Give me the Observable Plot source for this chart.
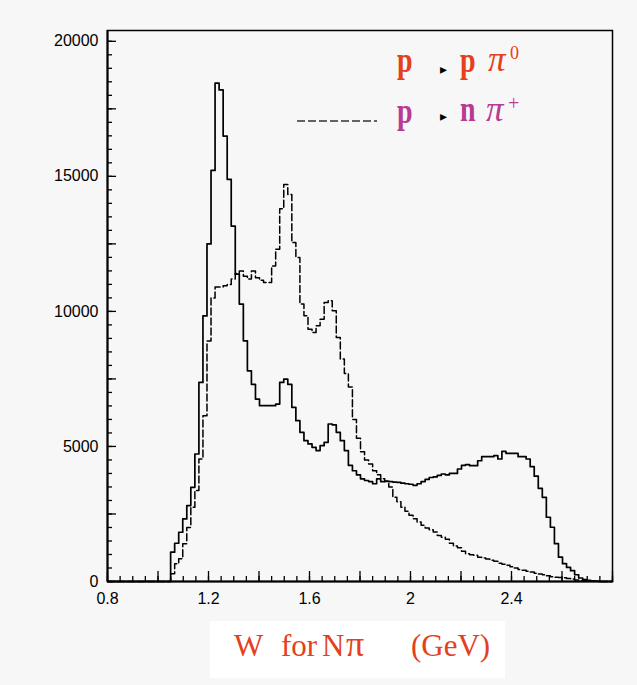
<!DOCTYPE html>
<html><head><meta charset="utf-8">
<script src="https://cdn.jsdelivr.net/npm/d3@7"></script>
<script src="https://cdn.jsdelivr.net/npm/@observablehq/plot@0.6"></script>
<style>
html,body{margin:0;padding:0;background:#f7f7f7;}
#wrap{position:relative;width:637px;height:685px;overflow:hidden;background:#f7f7f7;}
#overlay{position:absolute;left:0;top:0;z-index:0;pointer-events:none;}
#chart{position:absolute;left:0;top:0;z-index:1;}
</style></head><body>
<div id="wrap">
<svg id="overlay" width="637" height="685" xmlns="http://www.w3.org/2000/svg">
  <!-- legend -->
  <g font-family="Liberation Serif" fill="#e4401c">
    <text transform="translate(397,72) scale(0.8,1)" font-size="35" font-weight="bold">p</text>
    <text x="440" y="74" font-family="DejaVu Sans" font-size="14" fill="#000">▸</text>
    <text transform="translate(460,72) scale(0.8,1)" font-size="35" font-weight="bold">p</text>
    <text x="488" y="71" font-size="35" font-style="italic">π</text>
    <text x="510" y="59" font-size="18">0</text>
  </g>
  <line x1="297" y1="121" x2="377" y2="121" stroke="#333" stroke-width="1.3" stroke-dasharray="8,3"/>
  <g font-family="Liberation Serif" fill="#b93a93">
    <text transform="translate(397,123) scale(0.8,1)" font-size="35" font-weight="bold">p</text>
    <text x="440" y="121" font-family="DejaVu Sans" font-size="14" fill="#000">▸</text>
    <text transform="translate(460,121) scale(0.8,1)" font-size="35" font-weight="bold">n</text>
    <text x="486" y="121" font-size="35" font-style="italic">π</text>
    <text x="508" y="110" font-size="20">+</text>
  </g>
  <!-- x title -->
  <rect x="210" y="621" width="295" height="57" fill="#ffffff"/>
  <text font-family="Liberation Serif" font-size="31" fill="#e4401c" y="656"><tspan x="234">W</tspan><tspan x="281">for</tspan><tspan x="322">N</tspan><tspan x="346" font-size="36">π</tspan><tspan x="411">(GeV)</tspan></text>
</svg>
<div id="chart"></div>
</div>
<script>
// Histogram definition (GeV)
const binStart = 1.05;
const binWidth = 0.016;

// p -> p pi0 (solid), counts per bin
const solidCounts = [
  1084, 1417, 1823, 2318, 2811, 3487, 4721, 7369, 9834, 12500,
  15220, 18450, 18200, 16490, 14890, 13160, 11380, 10270, 8910, 7800,
  7300, 6755, 6509, 6509, 6509, 6509, 6570, 7371, 7494, 7300,
  6447, 5954, 5523, 5215, 5092, 4969, 4846, 5030, 5154, 5831,
  5800, 5523, 5215, 4846, 4300, 4100, 3950, 3800, 3740, 3700,
  3620, 3800, 3700, 3720, 3700, 3680, 3670, 3640, 3620, 3600,
  3560, 3620, 3700, 3780, 3850, 3870, 3930, 3980, 3950, 4000,
  4000, 4165, 4300, 4330, 4290, 4290, 4470, 4620, 4620, 4620,
  4660, 4535, 4820, 4745, 4745, 4745, 4620, 4620, 4535, 4250,
  3900, 3450, 3118, 2379, 2009, 1400, 900, 660, 520, 400,
  250, 130, 70, 40, 20, 10
];

// p -> n pi+ (dashed), counts per bin
const dashedCounts = [
  290, 655, 840, 1400, 2000, 2750, 3370, 4540, 6140, 8900,
  10500, 10900, 10900, 10950, 11000, 11200, 11400, 11500, 11300, 11200,
  11500, 11250, 11150, 11070, 11070, 11680, 12300, 13800, 14700, 14330,
  12550, 12000, 10270, 9840, 9340, 9220, 9470, 9710, 10330, 10390,
  10020, 9035, 8234, 7700, 7200, 6000, 5300, 4800, 4500, 4350,
  4100, 3950, 3800, 3700, 3500, 3120, 2950, 2750, 2600, 2450,
  2320, 2200, 2080, 1980, 1920, 1830, 1700, 1640, 1560, 1420,
  1310, 1250, 1120, 1030, 990, 970, 900, 870, 830, 790,
  750, 680, 640, 600, 550, 500, 440, 420, 380, 350,
  310, 280, 250, 210, 180, 160, 150, 140, 110, 90,
  60, 40, 30, 20, 10, 5
];

// Axes
const xDomain = [0.8, 2.8];
const yDomain = [0, 20400];
const xLabelValues = [0.8, 1.2, 1.6, 2, 2.4];
const xLabelTexts = ["0.8", "1.2", "1.6", "2", "2.4"];
const yLabelValues = [0, 5000, 10000, 15000, 20000];
const yLabelTexts = ["0", "5000", "10000", "15000", "20000"];

const xMajorTicks = d3.range(0, 11).map(i => +(0.8 + 0.2 * i).toFixed(2));
const xMinorTicks = d3.range(0, 41).map(i => +(0.8 + 0.05 * i).toFixed(3));
const yMajorTicks = d3.range(0, 9).map(i => i * 2500);
const yMinorTicks = d3.range(0, 41).map(i => i * 500);

// plot geometry (pixels)
const W = 637, H = 625, mL = 107, mR = 25, mT = 30, mB = 44;
const frameW = W - mL - mR, frameH = H - mT - mB;

function histRows(counts) {
  const rows = [{W: xDomain[0], n: 0}, {W: binStart, n: 0}];
  counts.forEach((c, i) => rows.push({W: binStart + i * binWidth, n: c}));
  rows.push({W: binStart + counts.length * binWidth, n: 0});
  rows.push({W: xDomain[1], n: 0});
  return rows;
}
const solidRows = histRows(solidCounts);
const dashedRows = histRows(dashedCounts);

const chart = Plot.plot({
  width: W,
  height: H,
  marginLeft: mL,
  marginRight: mR,
  marginTop: mT,
  marginBottom: mB,
  style: {background: "transparent", fontFamily: "Liberation Sans, Arial, sans-serif", fontSize: "16px", color: "#000"},
  x: {domain: xDomain, label: null},
  y: {domain: yDomain, label: null},
  marks: [
    Plot.line(dashedRows, {x: "W", y: "n", curve: "step-after", stroke: "#000", strokeWidth: 1.5, strokeDasharray: "7,3"}),
    Plot.line(solidRows, {x: "W", y: "n", curve: "step-after", stroke: "#000", strokeWidth: 1.7}),
    // inward ticks as short rules anchored to the bottom / left of the frame
    Plot.ruleX(xMinorTicks, {insetTop: frameH - 5, stroke: "#000", strokeWidth: 1.3}),
    Plot.ruleX(xMajorTicks, {insetTop: frameH - 10, stroke: "#000", strokeWidth: 1.3}),
    Plot.ruleY(yMinorTicks, {insetRight: frameW - 5, stroke: "#000", strokeWidth: 1.3}),
    Plot.ruleY(yMajorTicks, {insetRight: frameW - 9, stroke: "#000", strokeWidth: 1.3}),
    Plot.axisX({ticks: xLabelValues, tickSize: 0, tickPadding: 11, fontSize: 16, tickFormat: d => xLabelTexts[xLabelValues.indexOf(d)], label: null}),
    Plot.axisY({ticks: yLabelValues, tickSize: 0, tickPadding: 9, fontSize: 16, tickFormat: d => yLabelTexts[yLabelValues.indexOf(d)], label: null}),
    Plot.frame({stroke: "#000", strokeWidth: 1.5}),
    Plot.ruleX([xDomain[0]], {stroke: "#000", strokeWidth: 2}),
    Plot.ruleY([0], {stroke: "#000", strokeWidth: 2})
  ]
});
document.getElementById("chart").appendChild(chart);
</script>
</body></html>
